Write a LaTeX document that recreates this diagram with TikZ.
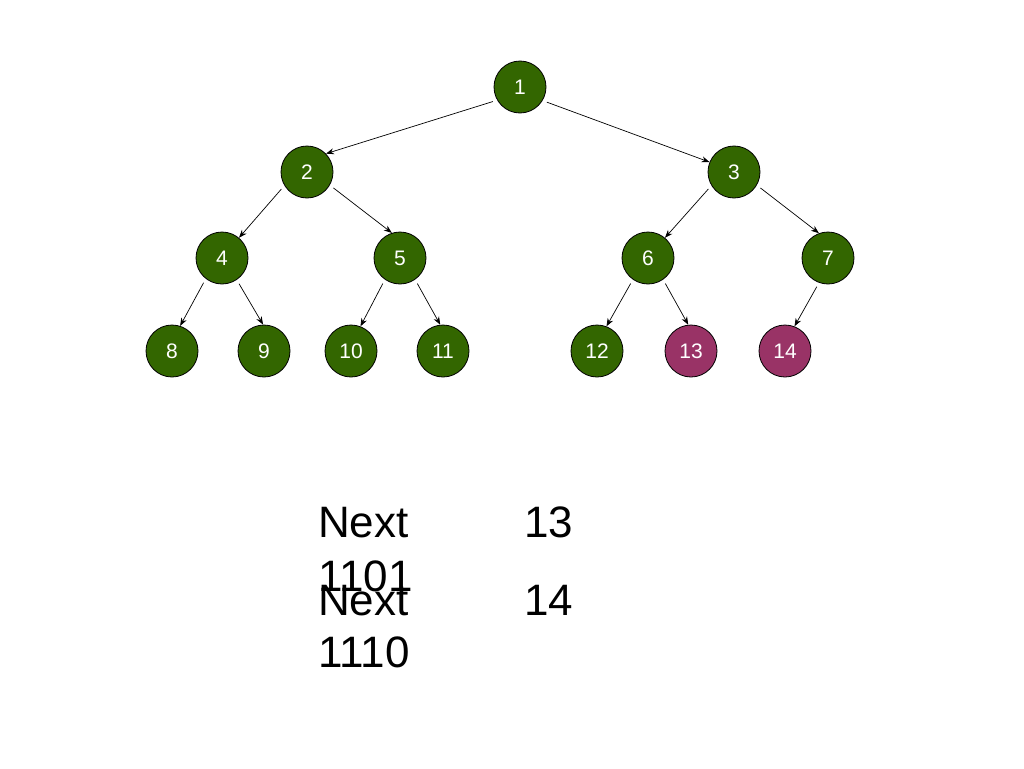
\documentclass[tikz,border=0pt]{standalone}
\usepackage{fontspec}
\setmainfont{Liberation Sans}
\usetikzlibrary{arrows.meta}
\definecolor{tgreen}{HTML}{336600}
\definecolor{tmag}{HTML}{993366}
\begin{document}
\begin{tikzpicture}[x=1pt,y=-1pt,
  tn/.style={circle,draw=black,line width=0.8pt,fill=tgreen,minimum size=52pt,inner sep=0pt,text=white,font=\fontsize{21}{24}\selectfont},
  tm/.style={tn,fill=tmag},
  edge/.style={-{Stealth[length=8pt,width=6pt]},line width=0.7pt,shorten <=4.5pt},
  big/.style={anchor=base west,inner sep=0pt,font=\fontsize{44}{54}\selectfont}]
\useasboundingbox (0,0) rectangle (1024,768);
\node[tn] (n1) at (520,87) {1};
\node[tn] (n2) at (307,172) {2};
\node[tn] (n3) at (734,172) {3};
\node[tn] (n4) at (222,258) {4};
\node[tn] (n5) at (400,258) {5};
\node[tn] (n6) at (648,258) {6};
\node[tn] (n7) at (828,258) {7};
\node[tn] (n8) at (172,351) {8};
\node[tn] (n9) at (264,351) {9};
\node[tn] (n10) at (351,351) {10};
\node[tn] (n11) at (443,351) {11};
\node[tn] (n12) at (597,351) {12};
\node[tm] (n13) at (691,351) {13};
\node[tm] (n14) at (785,351) {14};
\foreach \a/\sa/\b/\eb in {n1/210/n2/44,n1/329/n3/158,n2/211/n4/50,n2/330/n5/108,
  n3/211/n6/50,n3/330/n7/110,n4/232/n8/72,n4/304/n9/92,n5/235/n10/69,n5/305/n11/96,
  n6/235/n12/69,n6/305/n13/96,n7/250/n14/69}
  \draw[edge] (\a.\sa) -- (\b.\eb);
\node[big] (t1) at (318,537) {Next};
\node[big] (t2) at (524,537) {13};
\node[big] (t3) at (318,591) {1101};
\node[big] (t4) at (318,615) {Next};
\node[big] (t5) at (524,615) {14};
\node[big] (t6) at (318,667) {1110};
\end{tikzpicture}
\end{document}
